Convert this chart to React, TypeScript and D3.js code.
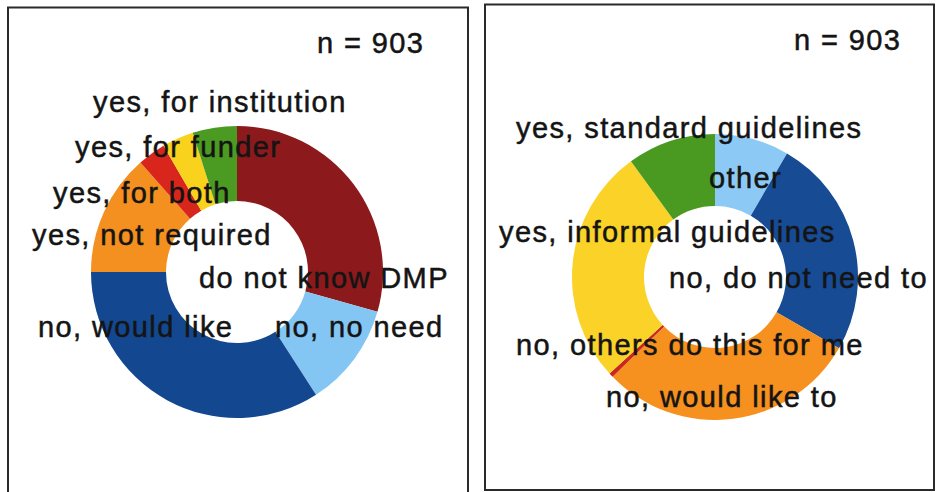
import React from "react";
import * as d3 from "d3";

// Left chart: does respondent have a DMP
const leftCategories = [
  "do not know DMP",
  "no, no need",
  "no, would like",
  "yes, not required",
  "yes, for both",
  "yes, for funder",
  "yes, for institution",
];
const leftValues = [29.4, 11.5, 34.1, 13.5, 3.1, 3.5, 4.9];
const leftColors = ["#8c1a1c", "#84c6f3", "#134891", "#f39020", "#d8261c", "#f8d21c", "#4b9a22"];

// Right chart
const rightCategories = [
  "other",
  "no, do not need to",
  "no, would like to",
  "no, others do this for me",
  "yes, informal guidelines",
  "yes, standard guidelines",
];
const rightValues = [8.4, 24.9, 29.4, 0.5, 26.8, 10.0];
const rightColors = ["#8ccaf5", "#174b94", "#f6901e", "#c8281e", "#fad228", "#4a9a22"];

const nLabel = "n = 903";

// label layout (left x, baseline y) per category
const leftLabelPos: [number, number][] = [
  [199, 288],
  [275, 337],
  [38, 337],
  [32, 245],
  [53, 203],
  [75, 157],
  [93, 112],
];
const rightLabelPos: [number, number][] = [
  [709, 188],
  [669, 288],
  [606, 407],
  [516, 355],
  [499, 242],
  [516, 138],
];

const FONT = "'Liberation Sans', Arial, Helvetica, sans-serif";
const TEXT_STYLE = {
  fontFamily: FONT,
  fontSize: 29,
  letterSpacing: 1.4,
  fill: "#141414",
  stroke: "#141414",
  strokeWidth: 0.5,
};

function Donut({
  values,
  colors,
  categories,
  labelPos,
  cx,
  cy,
  R,
  r,
}: {
  values: number[];
  colors: string[];
  categories: string[];
  labelPos: [number, number][];
  cx: number;
  cy: number;
  R: number;
  r: number;
}) {
  const pie = d3.pie<number>().sort(null).value((d) => d)(values);
  const arc = d3.arc<d3.PieArcDatum<number>>().innerRadius(r).outerRadius(R);
  return (
    <g>
      <g transform={`translate(${cx},${cy})`}>
        {pie.map((p, i) => (
          <path key={i} d={arc(p) || ""} fill={colors[i]} />
        ))}
      </g>
      {categories.map((c, i) => (
        <text key={c} x={labelPos[i][0]} y={labelPos[i][1]} style={TEXT_STYLE}>
          {c}
        </text>
      ))}
    </g>
  );
}

export default function App() {
  return (
    <svg
      width={936}
      height={492}
      style={{ position: "absolute", left: 0, top: 0, background: "#fff" }}
    >
      <rect x={0} y={0} width={936} height={492} fill="#fff" />
      {/* panel borders */}
      <rect x={8} y={7.5} width={460} height={492} fill="none" stroke="#2a2a2a" strokeWidth={2} />
      <rect x={485} y={4.5} width={449} height={485.5} fill="none" stroke="#2a2a2a" strokeWidth={2} />

      <Donut
        values={leftValues}
        colors={leftColors}
        categories={leftCategories}
        labelPos={leftLabelPos}
        cx={237}
        cy={272}
        R={146}
        r={71}
      />
      <Donut
        values={rightValues}
        colors={rightColors}
        categories={rightCategories}
        labelPos={rightLabelPos}
        cx={715}
        cy={277}
        R={143}
        r={71}
      />
      <text x={317} y={53} style={TEXT_STYLE}>
        {nLabel}
      </text>
      <text x={794} y={50} style={TEXT_STYLE}>
        {nLabel}
      </text>
    </svg>
  );
}
